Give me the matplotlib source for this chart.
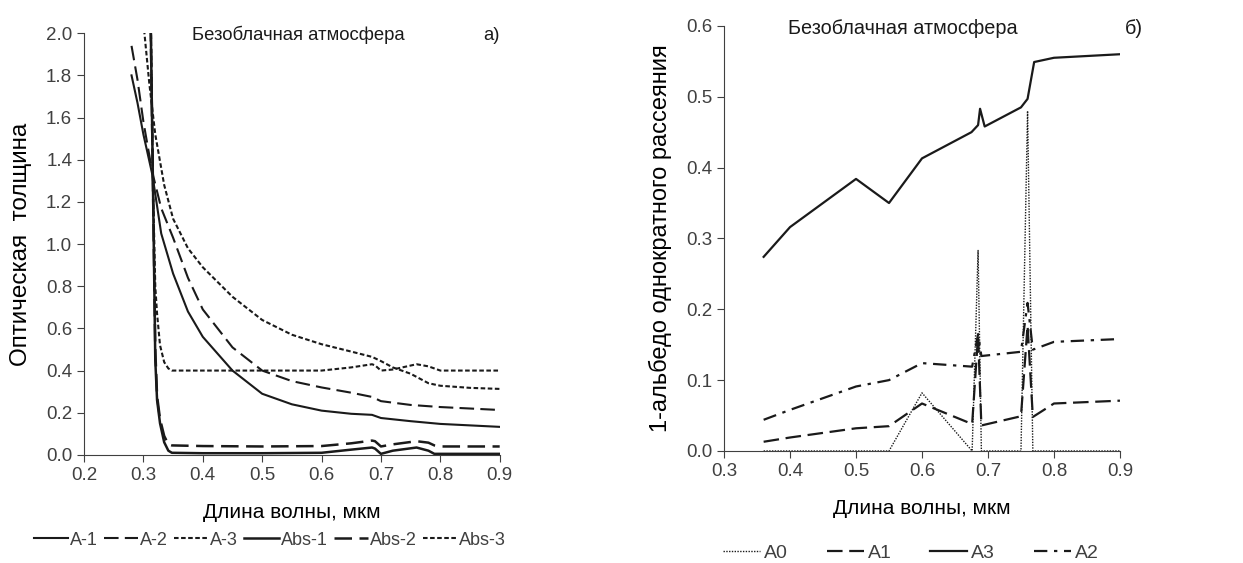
import numpy as np
import matplotlib
matplotlib.use("Agg")
import matplotlib.pyplot as plt
from matplotlib.ticker import FormatStrFormatter

plt.rcParams['font.family'] = ['Liberation Sans', 'DejaVu Sans']

# --- panel a: optical thickness ---
x_a1 = [0.28, 0.29, 0.30, 0.315, 0.33, 0.35, 0.375, 0.4, 0.45, 0.5, 0.55, 0.6,
        0.65, 0.685, 0.7, 0.75, 0.8, 0.85, 0.9]
a1 = [1.80, 1.67, 1.52, 1.33, 1.05, 0.86, 0.68, 0.56, 0.40, 0.29, 0.24, 0.21,
      0.195, 0.19, 0.175, 0.16, 0.147, 0.14, 0.133]
x_a2 = x_a1
a2 = [1.94, 1.78, 1.58, 1.34, 1.17, 1.03, 0.84, 0.69, 0.51, 0.40, 0.35, 0.32,
      0.295, 0.275, 0.255, 0.237, 0.227, 0.22, 0.213]
x_a3 = [0.30, 0.31, 0.32, 0.335, 0.35, 0.375, 0.4, 0.45, 0.5, 0.55, 0.6, 0.65,
        0.685, 0.7, 0.72, 0.75, 0.78, 0.8, 0.85, 0.9]
a3 = [2.05, 1.76, 1.52, 1.28, 1.12, 0.98, 0.89, 0.75, 0.64, 0.57, 0.525, 0.49,
      0.465, 0.445, 0.415, 0.385, 0.34, 0.328, 0.318, 0.313]

x_abs = [0.308, 0.312, 0.316, 0.32, 0.323, 0.328, 0.335, 0.342, 0.348, 0.4, 0.5,
         0.6, 0.65, 0.685, 0.69, 0.7, 0.72, 0.76, 0.78, 0.79, 0.8, 0.9]
abs1 = [2.6, 2.1, 1.3, 0.45, 0.26, 0.15, 0.06, 0.02, 0.01, 0.008, 0.008,
        0.01, 0.025, 0.035, 0.03, 0.005, 0.02, 0.035, 0.02, 0.005, 0.005, 0.005]
abs2 = [2.6, 2.1, 1.3, 0.50, 0.28, 0.17, 0.09, 0.05, 0.045, 0.042, 0.04,
        0.042, 0.055, 0.068, 0.065, 0.04, 0.05, 0.065, 0.058, 0.045, 0.04, 0.04]
abs3 = [2.6, 2.2, 1.3, 0.80, 0.67, 0.52, 0.44, 0.41, 0.40, 0.40, 0.40,
        0.40, 0.415, 0.43, 0.425, 0.40, 0.405, 0.43, 0.42, 0.41, 0.40, 0.40]

# --- panel b: 1 - single scattering albedo ---
x_b3 = [0.36, 0.4, 0.5, 0.55, 0.6, 0.675, 0.685, 0.688, 0.695, 0.75, 0.76,
        0.77, 0.8, 0.9]
b3 = [0.274, 0.316, 0.384, 0.35, 0.413, 0.45, 0.46, 0.483, 0.458, 0.485,
      0.497, 0.549, 0.555, 0.56]
x_b = [0.36, 0.4, 0.5, 0.55, 0.6, 0.676, 0.685, 0.69, 0.75, 0.76, 0.768, 0.8, 0.9]
b0 = [0.0, 0.0, 0.0, 0.0, 0.082, 0.0, 0.283, 0.0, 0.0, 0.48, 0.0, 0.0, 0.0]
b1 = [0.013, 0.019, 0.032, 0.035, 0.067, 0.038, 0.163, 0.036, 0.049, 0.177,
      0.048, 0.067, 0.071]
b2 = [0.044, 0.058, 0.091, 0.10, 0.124, 0.119, 0.165, 0.134, 0.14, 0.209,
      0.143, 0.154, 0.158]

GRAY = '#404040'
LC = '#1a1a1a'

fig = plt.figure(figsize=(12.43, 5.63), dpi=100)
ax1 = fig.add_axes([0.0676, 0.192, 0.3344, 0.749])
ax2 = fig.add_axes([0.5825, 0.199, 0.3185, 0.755])

for ax in (ax1, ax2):
    ax.spines['top'].set_visible(False)
    ax.spines['right'].set_visible(False)
    ax.spines['left'].set_color(GRAY)
    ax.spines['bottom'].set_color(GRAY)
    ax.tick_params(direction='out', length=5, color=GRAY, labelcolor=GRAY,
                   labelsize=13.5)
    ax.xaxis.set_major_formatter(FormatStrFormatter('%.1f'))
    ax.yaxis.set_major_formatter(FormatStrFormatter('%.1f'))

long_dash = (0, (7, 3))
short_dash = (0, (2.2, 1.2))

ax1.plot(x_a1, a1, color=LC, lw=1.5, ls='-', label='A-1')
ax1.plot(x_a2, a2, color=LC, lw=1.5, ls=long_dash, label='A-2')
ax1.plot(x_a3, a3, color=LC, lw=1.5, ls=short_dash, label='A-3')
ax1.plot(x_abs, abs1, color=LC, lw=1.8, ls='-', label='Abs-1')
ax1.plot(x_abs, abs2, color=LC, lw=1.8, ls=long_dash, label='Abs-2')
ax1.plot(x_abs, abs3, color=LC, lw=1.5, ls=short_dash, label='Abs-3')
ax1.set_xlim(0.2, 0.9)
ax1.set_ylim(0, 2.0)
ax1.set_xticks(np.arange(0.2, 0.91, 0.1))
ax1.set_yticks(np.arange(0, 2.01, 0.2))
ax1.set_xlabel('Длина волны, мкм', fontsize=15, labelpad=14)
ax1.set_ylabel('Оптическая  толщина', fontsize=17.5, labelpad=10)
ax1.text(0.26, 0.995, 'Безоблачная атмосфера', transform=ax1.transAxes,
         fontsize=13.3, va='center', ha='left', color=LC)
ax1.text(1.0, 0.995, 'а)', transform=ax1.transAxes, fontsize=13.3,
         va='center', ha='right', color=LC)
ax1.legend(loc='center', bbox_to_anchor=(0.447, -0.202), ncol=6,
           frameon=False, fontsize=13, handlelength=1.9, handletextpad=0.1,
           columnspacing=0.35, labelcolor=GRAY)

ax2.plot(x_b, b0, color=LC, lw=1.0, ls=(0, (1, 1)), label='A0')
ax2.plot(x_b, b1, color=LC, lw=1.6, ls=long_dash, label='A1')
ax2.plot(x_b3, b3, color=LC, lw=1.6, ls='-', label='A3')
ax2.plot(x_b, b2, color=LC, lw=1.6, ls=(0, (6, 3, 1.5, 3)), label='A2')
ax2.set_xlim(0.3, 0.9)
ax2.set_ylim(0, 0.6)
ax2.set_xticks(np.arange(0.3, 0.91, 0.1))
ax2.set_yticks(np.arange(0, 0.61, 0.1))
ax2.set_xlabel('Длина волны, мкм', fontsize=15, labelpad=14)
ax2.set_ylabel('1-альбедо однократного рассеяния', fontsize=17, labelpad=10)
ax2.text(0.162, 0.995, 'Безоблачная атмосфера', transform=ax2.transAxes,
         fontsize=14.3, va='center', ha='left', color=LC)
ax2.text(1.013, 0.995, 'б)', transform=ax2.transAxes, fontsize=14.3,
         va='center', ha='left', color=LC)
ax2.legend(loc='center', bbox_to_anchor=(0.472, -0.24), ncol=4,
           frameon=False, fontsize=14, handlelength=1.9, handletextpad=0.2,
           columnspacing=2.0, labelcolor=GRAY)

fig.savefig('out.png', dpi=100)
